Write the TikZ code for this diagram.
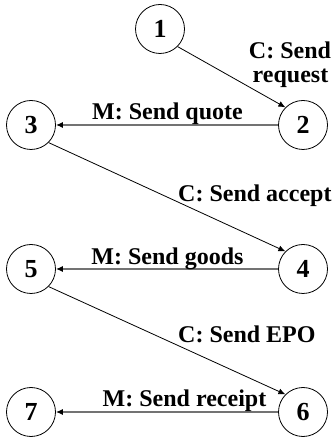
\documentclass[tikz,border=0pt]{standalone}
\usepackage{fontspec}
\setmainfont{Liberation Serif}
\usetikzlibrary{arrows.meta}
\begin{document}
\begin{tikzpicture}[x=1pt,y=1pt,
  state/.style={circle,draw=black,line width=0.8pt,minimum size=49pt,inner sep=0pt,
    font=\fontsize{26}{30}\selectfont\bfseries},
  lbl/.style={inner sep=0pt,font=\fontsize{24}{28}\selectfont\bfseries},
  cmove/.style={draw=black,line width=0.8pt,-{Latex[length=7pt,width=6pt]}},
  mmove/.style={draw=black!55,line width=1.3pt,-{Latex[length=7pt,width=6pt,fill=black,color=black]}}]
\useasboundingbox (0,0) rectangle (336,438);

% protocol states
\node[state] (n1) at (160,409) {1};
\node[state] (n2) at (303,313) {2};
\node[state] (n3) at (31,313) {3};
\node[state] (n4) at (303,169) {4};
\node[state] (n5) at (31,169) {5};
\node[state] (n6) at (303,26) {6};
\node[state] (n7) at (31,26) {7};

% customer moves
\draw[cmove] (n1.south east) -- (n2.north west);
\draw[cmove] (n3.south east) -- (n4.north west);
\draw[cmove] (n5.south east) -- (n6.north west);

% merchant moves
\draw[mmove] (n2.west) -- (n3.east);
\draw[mmove] (n4.west) -- (n5.east);
\draw[mmove] (n6.west) -- (n7.east);

% message labels
\node[lbl,anchor=base] (l12a) at (290,379) {C: Send};
\node[lbl,anchor=base] (l12b) at (290.5,355) {request};
\node[lbl,anchor=base] (l23) at (167.5,318) {M: Send quote};
\node[lbl,anchor=base west] (l34) at (178,236) {C: Send accept};
\node[lbl,anchor=base] (l45) at (167.5,173) {M: Send goods};
\node[lbl,anchor=base west] (l56) at (178,95) {C: Send EPO};
\node[lbl,anchor=base] (l67) at (184.5,31) {M: Send receipt};
\end{tikzpicture}
\end{document}
